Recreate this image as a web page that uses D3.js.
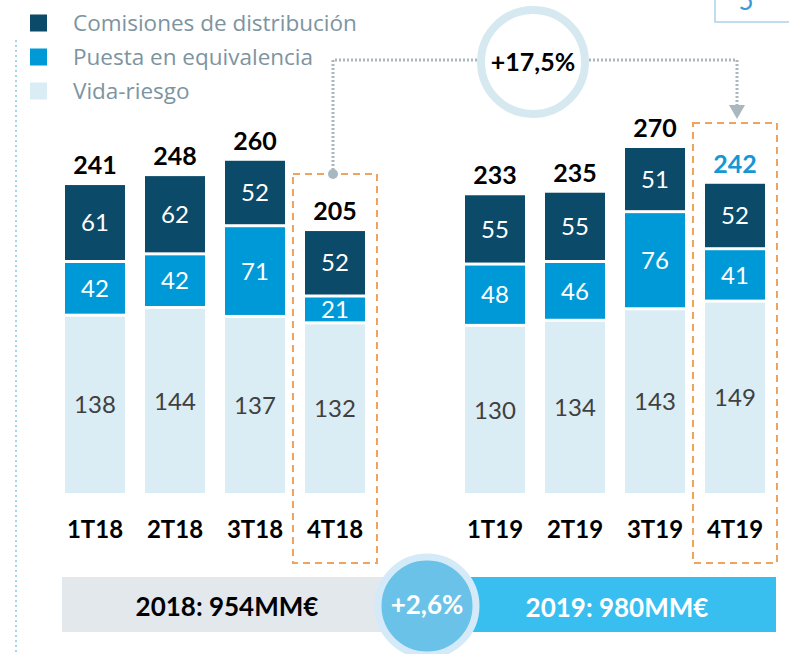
<!DOCTYPE html>
<html>
<head>
<meta charset="utf-8">
<script src="https://cdn.jsdelivr.net/npm/d3@7"></script>
<style>
  body { margin: 0; background: #fff; }
  svg { display: block; }
</style>
</head>
<body>
<svg id="chart" width="789" height="654"></svg>
<script>
// data
const quarters = ['1T18', '2T18', '3T18', '4T18', '1T19', '2T19', '3T19', '4T19'];
const comisiones = [61, 62, 52, 52, 55, 55, 51, 52];
const puesta = [42, 42, 71, 21, 48, 46, 76, 41];
const vida = [138, 144, 137, 132, 130, 134, 143, 149];
const totals = [241, 248, 260, 205, 233, 235, 270, 242];
const seriesNames = ['Comisiones de distribución', 'Puesta en equivalencia', 'Vida-riesgo'];
const growthQ = '+17,5%';
const yearLabels = ['2018: 954MM€', '2019: 980MM€'];
const growthY = '+2,6%';

const colors = {
  comisiones: '#0b4a68',
  puesta: '#0099d8',
  vida: '#daedf4'
};
const font = 'Lato, "Open Sans", sans-serif';

const svg = d3.select('#chart');

// x: 9 slots, the 5th is an empty spacer between the two years
const slots = quarters.slice(0, 4).concat([' '], quarters.slice(4));
const x = d3.scaleBand()
  .domain(slots)
  .range([55, 775])
  .paddingInner(0.25)
  .paddingOuter(0.125);

const y = d3.scaleLinear()
  .domain([0, 270])
  .range([493, 148]);

// left dotted guide
svg.append('line')
  .attr('x1', 16).attr('x2', 16)
  .attr('y1', 40).attr('y2', 654)
  .attr('stroke', '#a6d6e6')
  .attr('stroke-width', 2)
  .attr('stroke-dasharray', '2,3');

// page number box top right (number is cut by the page edge)
svg.append('rect')
  .attr('x', 715).attr('y', -10)
  .attr('width', 90).attr('height', 32)
  .attr('fill', '#fff')
  .attr('stroke', '#a9d3e8')
  .attr('stroke-width', 1.5);
svg.append('text')
  .attr('x', 746).attr('y', 10)
  .attr('text-anchor', 'middle')
  .attr('font-family', font)
  .attr('font-size', 26)
  .attr('fill', '#3a9ad9')
  .text('5');

// legend
const legendColors = [colors.comisiones, colors.puesta, colors.vida];
const legend = svg.append('g').attr('class', 'legend');
seriesNames.forEach((name, i) => {
  const cy = 23 + i * 34;
  legend.append('rect')
    .attr('x', 30).attr('y', cy - 8.5)
    .attr('width', 17).attr('height', 17)
    .attr('fill', legendColors[i]);
  legend.append('text')
    .attr('x', 73).attr('y', cy)
    .attr('dy', '0.35em')
    .attr('font-family', '"Open Sans", sans-serif')
    .attr('font-size', 22.5)
    .attr('fill', '#7d949f')
    .text(name);
});

// stacked segments
const rows = quarters.map((q, i) => ({
  q: q,
  total: totals[i],
  segs: [
    { key: 'vida', v: vida[i] },
    { key: 'puesta', v: puesta[i] },
    { key: 'comisiones', v: comisiones[i] }
  ]
}));
rows.forEach(r => {
  let acc = 0;
  r.segs.forEach((s, j) => {
    s.y0 = acc;
    acc += s.v;
    s.y1 = acc;
    s.idx = j;
  });
});

const gap = 3;
const bars = svg.selectAll('g.bar')
  .data(rows)
  .enter()
  .append('g')
  .attr('class', 'bar')
  .attr('transform', d => 'translate(' + x(d.q) + ',0)');

bars.selectAll('rect')
  .data(d => d.segs)
  .enter()
  .append('rect')
  .attr('x', 0)
  .attr('width', x.bandwidth())
  .attr('y', s => y(s.y1))
  .attr('height', s => y(s.y0) - y(s.y1) - (s.idx > 0 ? gap : 0))
  .attr('fill', s => colors[s.key]);

bars.selectAll('text.seg')
  .data(d => d.segs)
  .enter()
  .append('text')
  .attr('class', 'seg')
  .attr('x', x.bandwidth() / 2)
  .attr('y', s => (y(s.y0) - (s.idx > 0 ? gap : 0) + y(s.y1)) / 2)
  .attr('dy', '0.36em')
  .attr('text-anchor', 'middle')
  .attr('font-family', font)
  .attr('font-size', 24)
  .attr('fill', s => s.key === 'vida' ? '#404040' : '#fff')
  .text(s => s.v);

bars.append('text')
  .attr('class', 'total')
  .attr('x', x.bandwidth() / 2)
  .attr('y', d => y(d.total) - 11)
  .attr('text-anchor', 'middle')
  .attr('font-family', font)
  .attr('font-weight', 'bold')
  .attr('font-size', 25)
  .attr('fill', d => d.q === '4T19' ? '#1497d4' : '#000')
  .text(d => d.total);

// category labels
svg.selectAll('text.cat')
  .data(quarters)
  .enter()
  .append('text')
  .attr('class', 'cat')
  .attr('x', d => x(d) + x.bandwidth() / 2)
  .attr('y', 530)
  .attr('dy', '0.35em')
  .attr('text-anchor', 'middle')
  .attr('font-family', font)
  .attr('font-weight', 'bold')
  .attr('font-size', 24)
  .attr('fill', '#000')
  .text(d => d);

// dashed highlight boxes
const boxTops = { '4T18': 174, '4T19': 123 };
Object.keys(boxTops).forEach(q => {
  svg.append('rect')
    .attr('x', x(q) - 12)
    .attr('y', boxTops[q])
    .attr('width', x.bandwidth() + 24)
    .attr('height', 563 - boxTops[q])
    .attr('fill', 'none')
    .attr('stroke', '#f0a35e')
    .attr('stroke-width', 2)
    .attr('stroke-dasharray', '7,5');
});

// connector between the two 4T boxes
const cx = 533, cy = 62, cr = 52;
const xa = x('4T18') + x.bandwidth() / 2 - 2;
const xb = x('4T19') + x.bandwidth() / 2 + 2;
const dotted = '#a9b7bf';
svg.append('path')
  .attr('d', `M ${xa} ${boxTops['4T18']} V 60 H ${cx - cr - 4}`)
  .attr('fill', 'none')
  .attr('stroke', dotted)
  .attr('stroke-width', 3)
  .attr('stroke-dasharray', '2,2');
svg.append('path')
  .attr('d', `M ${cx + cr + 4} 60 H ${xb} V 106`)
  .attr('fill', 'none')
  .attr('stroke', dotted)
  .attr('stroke-width', 3)
  .attr('stroke-dasharray', '2,2');
svg.append('circle')
  .attr('cx', xa).attr('cy', boxTops['4T18'])
  .attr('r', 5)
  .attr('fill', dotted);
svg.append('path')
  .attr('d', `M ${xb - 8} 105 L ${xb + 8} 105 L ${xb} 119 Z`)
  .attr('fill', dotted);

svg.append('circle')
  .attr('cx', cx).attr('cy', cy)
  .attr('r', cr)
  .attr('fill', '#fff')
  .attr('stroke', '#d6e9f1')
  .attr('stroke-width', 8);
svg.append('text')
  .attr('x', cx).attr('y', cy)
  .attr('dy', '0.35em')
  .attr('text-anchor', 'middle')
  .attr('font-family', font)
  .attr('font-weight', 'bold')
  .attr('font-size', 25)
  .attr('fill', '#000')
  .text(growthQ);

// yearly totals strip
svg.append('rect')
  .attr('x', 62).attr('y', 577)
  .attr('width', 370).attr('height', 55)
  .attr('fill', '#e2e8ec');
svg.append('rect')
  .attr('x', 430).attr('y', 577)
  .attr('width', 346).attr('height', 55)
  .attr('fill', '#38bff0');
svg.append('circle')
  .attr('cx', 427).attr('cy', 606)
  .attr('r', 49)
  .attr('fill', '#6bc2e8')
  .attr('stroke', '#d4eaf8')
  .attr('stroke-width', 7);
svg.append('text')
  .attr('x', 227).attr('y', 607)
  .attr('dy', '0.35em')
  .attr('text-anchor', 'middle')
  .attr('font-family', font)
  .attr('font-weight', 'bold')
  .attr('font-size', 26)
  .attr('fill', '#000')
  .text(yearLabels[0]);
svg.append('text')
  .attr('x', 617).attr('y', 608)
  .attr('dy', '0.35em')
  .attr('text-anchor', 'middle')
  .attr('font-family', font)
  .attr('font-weight', 'bold')
  .attr('font-size', 26)
  .attr('fill', '#fff')
  .text(yearLabels[1]);
svg.append('text')
  .attr('x', 427).attr('y', 605)
  .attr('dy', '0.35em')
  .attr('text-anchor', 'middle')
  .attr('font-family', font)
  .attr('font-weight', 'bold')
  .attr('font-size', 26)
  .attr('fill', '#fff')
  .text(growthY);
</script>
</body>
</html>
